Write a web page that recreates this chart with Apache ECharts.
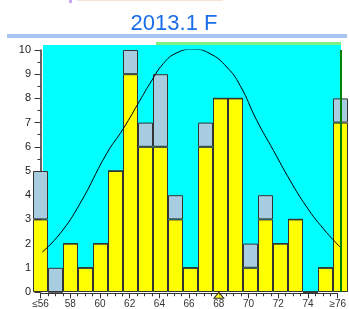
<!DOCTYPE html>
<html>
<head>
<meta charset="utf-8">
<script src="https://cdn.jsdelivr.net/npm/echarts@6/dist/echarts.min.js"></script>
<style type="text/css">
html,body{margin:0;padding:0;background:#fff;}
#chart_main{width:349px;height:309px;}
</style>
</head>
<body>
<div id="chart_main"></div>
<script type="text/javascript">
// bins <=56 .. >=76
var categories = ['≤56','57','58','59','60','61','62','63','64','65','66','67','68','69','70','71','72','73','74','75','≥76'];
var yellowValues = [3,0,2,1,2,5,9,6,6,3,1,6,8,8,1,3,2,3,0,1,7];
var blueValues   = [2,1,0,0,0,0,1,1,3,1,0,1,0,0,1,1,0,0,0,0,1];
var tickLabels = ['≤56','58','60','62','64','66','68','70','72','74','≥76'];
// normal curve: [bin position, count]
var curvePoints = [
	[0.12,1.65],[1.30,2.41],[2.63,3.65],[4.41,5.72],[5.52,6.75],[6.63,7.92],
	[7.30,8.62],[8.19,9.44],[9.08,9.88],[10.19,10.03],[11.30,9.85],[12.41,9.30],
	[13.30,8.54],[14.41,7.10],[15.52,5.86],[16.63,4.62],[17.75,3.51],[18.85,2.62],[19.97,1.86]
];
var meanMark = [[12,0]];
var limitBin = '≥76';

var myChart = echarts.init(document.getElementById('chart_main'));
var font = 'Liberation Sans, Arial, sans-serif';
var option = {
	animation:false,
	title:{
		text:'2013.1 F',left:169,top:8,textAlign:'center',
		textStyle:{color:'#1a6ee8',fontSize:22,fontWeight:'normal',fontFamily:font}
	},
	graphic:[
		{type:'rect',z:0,shape:{x:43,y:45,width:298,height:247},style:{fill:'#00ffff'}},
		{type:'rect',z:1,shape:{x:156,y:42,width:185,height:3},style:{fill:'#80f080'}},
		{type:'rect',z:1,shape:{x:7,y:34,width:340,height:4},style:{fill:'#a8c4f0'}},
		{type:'rect',z:1,shape:{x:69,y:0,width:3,height:3},style:{fill:'#c8a8f0'}},
		{type:'rect',z:1,shape:{x:77,y:0,width:146,height:1},style:{fill:'#f3e6d6'}}
	],
	grid:[
		{left:33,right:1,top:50,bottom:17},
		{left:40.5,right:8.5,top:293,height:1}
	],
	xAxis:[
		{type:'category',gridIndex:0,data:categories,boundaryGap:true,show:false},
		{type:'value',gridIndex:0,min:-0.5,max:20.5,show:false},
		{type:'value',gridIndex:1,min:0,max:20,interval:2,position:'bottom',
			axisLine:{lineStyle:{color:'#333',width:1}},
			axisTick:{length:5,lineStyle:{color:'#333'}},
			minorTick:{show:true,splitNumber:4,length:3,lineStyle:{color:'#333'}},
			splitLine:{show:false},
			axisLabel:{margin:6,fontSize:10,color:'#333',fontFamily:font,
				formatter:function(v){return tickLabels[Math.round(v/2)];}}
		}
	],
	yAxis:[
		{type:'value',gridIndex:0,min:0,max:10,interval:1,
			axisLine:{show:true,lineStyle:{color:'#333',width:1.5}},
			axisTick:{show:true,length:6,lineStyle:{color:'#333'}},
			minorTick:{show:true,splitNumber:2,length:3,lineStyle:{color:'#333'}},
			splitLine:{show:false},
			axisLabel:{margin:2,fontSize:11,color:'#222',fontFamily:font}
		},
		{type:'value',gridIndex:1,min:0,max:1,show:false}
	],
	series:[
		{name:'a',type:'bar',xAxisIndex:0,yAxisIndex:0,stack:'s',data:yellowValues,
			barCategoryGap:'0%',
			itemStyle:{color:'#ffff00',borderColor:'#333',borderWidth:1},
			markLine:{symbol:'none',silent:true,label:{show:false},
				lineStyle:{color:'#008000',width:2,type:'solid'},
				data:[{xAxis:limitBin}]}
		},
		{name:'b',type:'bar',xAxisIndex:0,yAxisIndex:0,stack:'s',data:blueValues,
			barCategoryGap:'0%',
			itemStyle:{color:'#a8cce0',borderColor:'#333',borderWidth:1}
		},
		{name:'curve',type:'line',xAxisIndex:1,yAxisIndex:0,data:curvePoints,smooth:true,
			showSymbol:false,lineStyle:{color:'#000',width:1},z:5
		},
		{name:'mean',type:'scatter',xAxisIndex:2,yAxisIndex:1,data:meanMark,
			symbol:'triangle',symbolSize:[10,6],symbolOffset:[0,2],
			itemStyle:{color:'#ffff00',borderColor:'#000',borderWidth:1},z:6
		}
	]
};
myChart.setOption(option);
</script>
</body>
</html>
